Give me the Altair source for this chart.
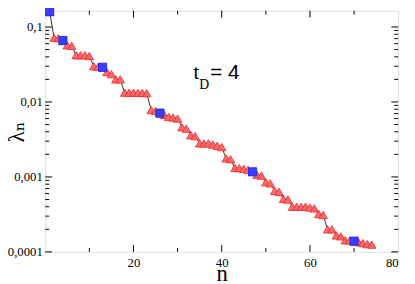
import altair as alt
import pandas as pd

# ---- data ----
n_vals = list(range(1, 75))
lam_vals = [
    0.160, 0.072, 0.071, 0.066, 0.057, 0.056, 0.042, 0.042, 0.042, 0.041,
    0.030, 0.0295, 0.029, 0.025, 0.0235, 0.020, 0.020, 0.0133, 0.0133, 0.0133,
    0.0132, 0.0132, 0.0131, 0.0078, 0.0076, 0.0071, 0.0067, 0.0063, 0.0062, 0.0060,
    0.0046, 0.0044, 0.0036, 0.0035, 0.0028, 0.0028, 0.0028, 0.0027, 0.0026, 0.0025,
    0.00177, 0.00172, 0.00132, 0.00131, 0.00128, 0.00124, 0.00117, 0.00107, 0.00104, 0.00085,
    0.00082, 0.00065, 0.00063, 0.00051, 0.00050, 0.00040, 0.00040, 0.00040, 0.00040, 0.00039,
    0.00038, 0.00032, 0.00031, 0.00020, 0.00020, 0.000166, 0.000161, 0.000143, 0.000142, 0.000139,
    0.000135, 0.000131, 0.000127, 0.000125,
]
blue_n = [1, 4, 13, 26, 47, 70]
blue_lam = [0.160, 0.066, 0.029, 0.0071, 0.00117, 0.000139]

x_labels = [20, 40, 60, 80]
x_minor = [10, 30, 50, 70]
y_labels = [0.0001, 0.001, 0.01, 0.1]
y_minor = [k * 10.0 ** e for e in (-4, -3, -2, -1) for k in range(2, 10) if k * 10.0 ** e < 0.165]

W, H = 360, 246
SERIF = "'Liberation Serif', 'DejaVu Serif', serif"
SANS = "'Liberation Sans', Arial, sans-serif"

df = pd.DataFrame({"n": n_vals, "lam": lam_vals})
dfb = pd.DataFrame({"n": blue_n, "lam": blue_lam})

xscale = alt.Scale(domain=[0, 80], nice=False, zero=False)
yscale = alt.Scale(type="log", domain=[0.0001, 0.165], nice=False)

xaxis = alt.Axis(values=x_labels, tickSize=0, domain=False, grid=False,
                 labelFont=SERIF, labelFontSize=13, labelColor="black", labelPadding=5,
                 title="n", titleFont=SERIF, titleFontSize=23, titleFontWeight="normal",
                 titleColor="black", titleY=29, titleBaseline="alphabetic")
yaxis = alt.Axis(values=y_labels, tickSize=0, domain=False, grid=False,
                 labelExpr="replace(toString(datum.value), '.', ',')",
                 labelFont=SERIF, labelFontSize=13, labelColor="black", labelPadding=3,
                 title="λₙ", titleFont=SERIF, titleFontSize=23, titleFontWeight="normal",
                 titleColor="black", titleX=-22, titleY=H / 2, titleBaseline="alphabetic",
                 titleAngle=270)


def X():
    return alt.X("n:Q", scale=xscale, axis=xaxis)


def Y():
    return alt.Y("lam:Q", scale=yscale, axis=yaxis)


line = alt.Chart(df).mark_line(color="#333333", strokeWidth=1).encode(x=X(), y=Y())
tri = alt.Chart(df).mark_point(shape="triangle-up", filled=True, fill="#ff6868",
                               stroke="#e82828", strokeWidth=0.8, size=75, opacity=1).encode(x=X(), y=Y())
sq = alt.Chart(dfb).mark_point(shape="square", filled=True, fill="#3c3cff",
                               stroke="#1e1ee0", strokeWidth=0.8, size=70, opacity=1).encode(x=X(), y=Y())


def yticks(vals, length):
    d = pd.DataFrame({"lam": vals})
    left = alt.Chart(d).mark_rule(color="black", strokeWidth=1).encode(
        y=Y(), x=alt.value(0), x2=alt.value(length))
    right = alt.Chart(d).mark_rule(color="black", strokeWidth=1).encode(
        y=Y(), x=alt.value(W - length), x2=alt.value(W))
    return [left, right]


def xticks(vals, length):
    d = pd.DataFrame({"n": vals})
    bot = alt.Chart(d).mark_rule(color="black", strokeWidth=1).encode(
        x=X(), y=alt.value(H - length), y2=alt.value(H))
    top = alt.Chart(d).mark_rule(color="black", strokeWidth=1).encode(
        x=X(), y=alt.value(0), y2=alt.value(length))
    return [bot, top]


tick_layers = (yticks(y_labels, 7) + yticks(y_minor, 4)
               + xticks(x_labels[:-1], 7) + xticks(x_minor, 4))

ann_t = pd.DataFrame({"n": [33.6], "lam": [0.020], "txt": ["t"]})
ann_d = pd.DataFrame({"n": [34.9], "lam": [0.0150], "txt": ["D"]})
ann_e = pd.DataFrame({"n": [37.4], "lam": [0.020], "txt": ["= 4"]})


def text_layer(d, size, font):
    return alt.Chart(d).mark_text(align="left", baseline="alphabetic", fontSize=size,
                                  font=font, color="black").encode(
        x=X(), y=Y(), text="txt:N")


texts = [text_layer(ann_t, 21, SERIF), text_layer(ann_d, 14, SERIF),
         text_layer(ann_e, 21, SANS)]

chart = alt.layer(line, *tick_layers, tri, sq, *texts).properties(
    width=W, height=H,
    autosize=alt.AutoSizeParams(type="none"),
    padding={"left": 38, "top": 0, "right": 9, "bottom": 30},
).configure_view(stroke="black", strokeWidth=1).configure(background="white")

chart.save("out.html", embed_options={"renderer": "svg", "actions": False})
